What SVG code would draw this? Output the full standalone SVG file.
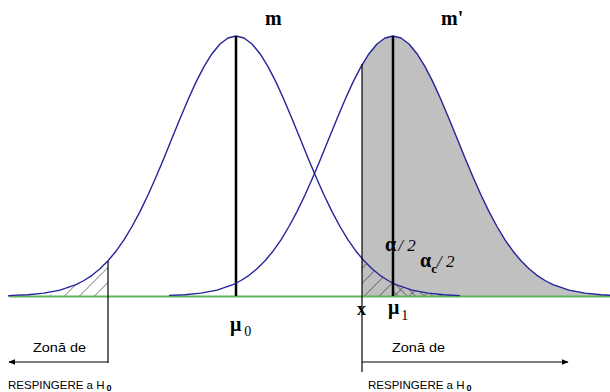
<svg xmlns="http://www.w3.org/2000/svg" width="610" height="392" viewBox="0 0 610 392">
<style>
.curve{fill:none;stroke:#24249a;stroke-width:1.4;stroke-linejoin:round}
.vthick{stroke:#000;stroke-width:2.5}
.vthin{stroke:#000;stroke-width:1.2}
.gr{font-family:"Liberation Serif","Times New Roman",serif;font-weight:bold;fill:#000}
.sans{font-family:"Liberation Sans",Arial,sans-serif;fill:#000}
.sub{font-weight:bold;font-size:9px}
.arr{stroke:#000;stroke-width:1.2;fill:none}
.half{font-weight:normal;font-style:italic;font-size:17px}
</style>
<defs>
<pattern id="hatch" patternUnits="userSpaceOnUse" width="10.6" height="10.6" patternTransform="rotate(45)">
<line x1="0" y1="0" x2="0" y2="10.6" stroke="#222" stroke-width="1"/>
</pattern>
<pattern id="hatch2" patternUnits="userSpaceOnUse" width="6" height="6" patternTransform="rotate(-45)">
<line x1="0" y1="0" x2="0" y2="6" stroke="#222" stroke-width="0.9"/>
</pattern>
<marker id="ah" viewBox="0 0 10 10" refX="9" refY="5" markerWidth="7" markerHeight="7" markerUnits="userSpaceOnUse" orient="auto">
<path d="M0,1 L10,5 L0,9 Z" fill="#000"/>
</marker>
</defs>
<rect width="610" height="392" fill="#fff"/>

<g id="shading">
<polygon fill="#c0c0c0" points="362,296 362,64.8 369,53.7 377,44.0 385,38.0 393,36 401,38.0 409,44.0 417,53.7 425,66.6 433,82.1 441,99.8 449,118.7 457,138.3 465,157.9 473,177.0 481,195.0 489,211.6 497,226.5 505,239.8 513,251.2 521,260.8 529,268.8 537,275.3 545,280.5 553,284.6 569,290.1 585,293.1 601,294.7 610,295.2 610,296"/>
<polygon fill="url(#hatch)" points="48,296 60,290.1 76,284.6 84,280.5 92,275.3 100,268.8 108,260.8 108,296"/>
<polygon fill="url(#hatch)" points="362,296 362,259 364,260.8 372,268.8 380,275.3 388,280.5 396,284.6 412,290.1 428,293.1 444,294.7 452,296"/>
<polygon fill="url(#hatch2)" points="393,296 393,283 396,284.6 412,290.1 428,293.1 440,294.5 446,296"/>
</g>

<g id="baseline">
<line x1="10" y1="296.5" x2="610" y2="296.5" stroke="#5fb55f" stroke-width="2"/>
</g>

<g id="curve-m">
<polyline class="curve" points="8,296 12,295.4 28,294.7 44,293.1 60,290.1 76,284.6 84,280.5 92,275.3 100,268.8 108,260.8 116,251.2 124,239.8 132,226.5 140,211.6 148,195.0 156,177.0 164,157.9 172,138.3 180,118.7 188,99.8 196,82.1 204,66.6 212,53.7 220,44.0 228,38.0 236,36 244,38.0 252,44.0 260,53.7 268,66.6 276,82.1 284,99.8 292,118.7 300,138.3 308,157.9 316,177.0 324,195.0 332,211.6 340,226.5 348,239.8 356,251.2 364,260.8 372,268.8 380,275.3 388,280.5 396,284.6 412,290.1 428,293.1 444,294.7 460,295.6"/>
<line class="vthick" x1="236" y1="36" x2="236" y2="296"/>
<text class="gr" x="265" y="25" font-size="20">m</text>
</g>

<g id="curve-m1">
<polyline class="curve" points="169,295.4 185,294.7 201,293.1 217,290.1 233,284.6 241,280.5 249,275.3 257,268.8 265,260.8 273,251.2 281,239.8 289,226.5 297,211.6 305,195.0 313,177.0 321,157.9 329,138.3 337,118.7 345,99.8 353,82.1 361,66.6 369,53.7 377,44.0 385,38.0 393,36 401,38.0 409,44.0 417,53.7 425,66.6 433,82.1 441,99.8 449,118.7 457,138.3 465,157.9 473,177.0 481,195.0 489,211.6 497,226.5 505,239.8 513,251.2 521,260.8 529,268.8 537,275.3 545,280.5 553,284.6 569,290.1 585,293.1 601,294.7 610,295.2"/>
<line class="vthick" x1="393" y1="36" x2="393" y2="296"/>
<text class="gr" x="441" y="25" font-size="20">m'</text>
</g>

<g id="critical-lines">
<line class="vthin" x1="108" y1="261" x2="108" y2="363"/>
<line class="vthin" x1="362" y1="64" x2="362" y2="372"/>
</g>

<g id="labels">
<text class="gr" x="230" y="331" font-size="20">μ<tspan font-size="14" font-weight="normal" dx="3" dy="5">0</tspan></text>
<text class="gr" x="357" y="315" font-size="18">x</text>
<text class="gr" x="388" y="314" font-size="20">μ<tspan font-size="14" font-weight="normal" dx="2" dy="6">1</tspan></text>
<text class="gr" x="385" y="251" font-size="20">α<tspan class="half" dx="2">/ 2</tspan></text>
<text class="gr" x="420" y="267" font-size="20">α<tspan font-size="13" dy="6">c</tspan><tspan class="half" dy="-6">/ 2</tspan></text>
</g>

<g id="connectors">
<line class="arr" x1="108" y1="362" x2="9" y2="362" marker-end="url(#ah)"/>
<line class="arr" x1="362" y1="362" x2="568" y2="362" marker-end="url(#ah)"/>
</g>

<g id="zone-left">
<text class="sans" x="33" y="352" font-size="13" textLength="53" lengthAdjust="spacingAndGlyphs">Zonă de</text>
<text class="sans" x="8" y="389" font-size="11.5">RESPINGERE a H<tspan class="sub" dx="2" dy="2">0</tspan></text>
</g>
<g id="zone-right">
<text class="sans" x="392" y="352" font-size="13" textLength="53" lengthAdjust="spacingAndGlyphs">Zonă de</text>
<text class="sans" x="368" y="389" font-size="11.5">RESPINGERE a H<tspan class="sub" dx="2" dy="2">0</tspan></text>
</g>
</svg>
